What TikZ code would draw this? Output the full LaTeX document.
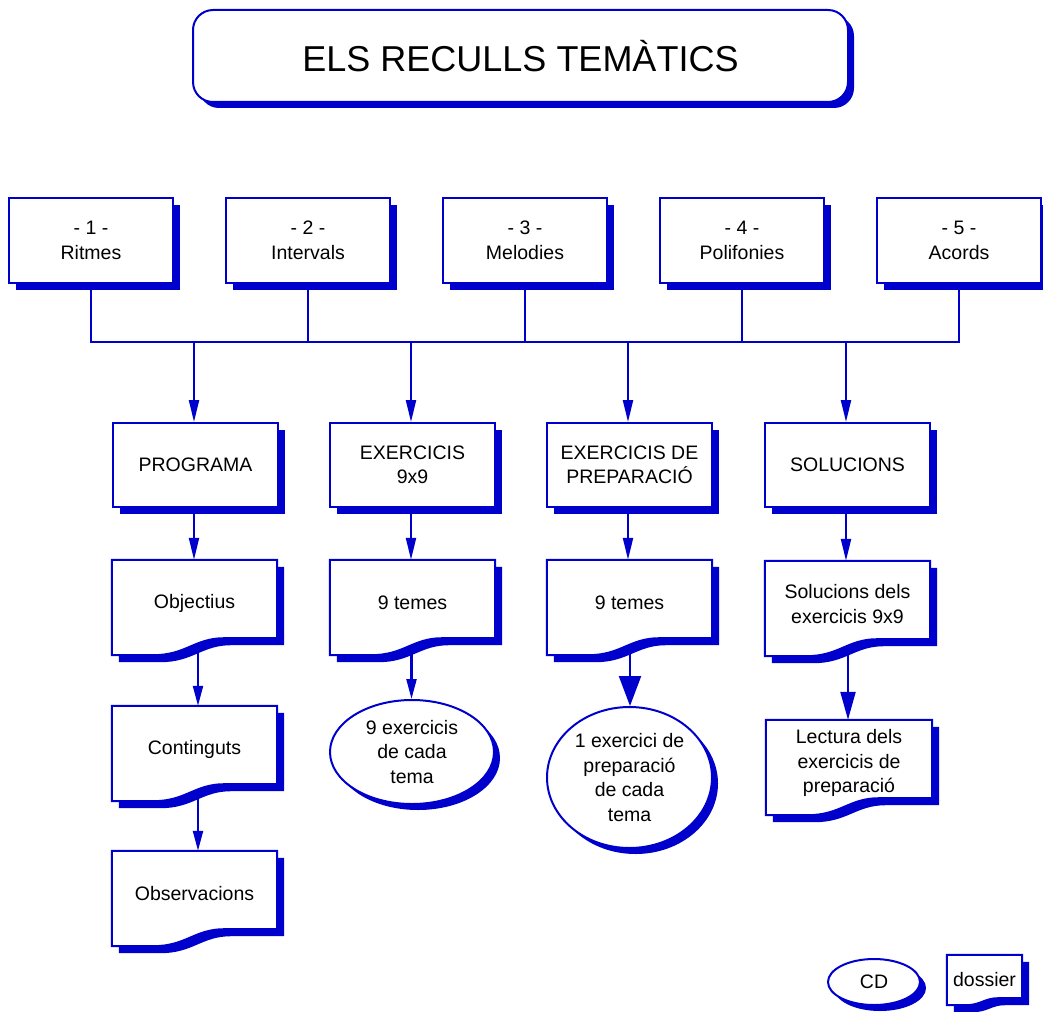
\documentclass[tikz,border=0pt]{standalone}
\usepackage{fontspec}
\setmainfont{Liberation Sans}
\usetikzlibrary{arrows.meta,shapes.geometric,shadows,backgrounds,calc}
\definecolor{fcblue}{RGB}{0,0,204}

% outline of a "document" symbol around node #1, shifted by (#4,#5):
% right end of the wavy bottom #2 above the node's south side, left end #3 below it
\newcommand\docpath[5]{%
  let \p1=(#1.north west), \p2=(#1.south east),
      \n1={\x1+#4}, \n2={\x2+#4}, \n3={\y1+#5}, \n4={\y2+#2+#5}, \n5={\y2-#3+#5} in
  (\n1,\n3) -- (\n2,\n3) -- (\n2,\n4)
  -- ({\n1+0.68*(\n2-\n1)},\n4)
  .. controls ({\n1+0.5*(\n2-\n1)},\n4) and ({\n1+0.45*(\n2-\n1)},\n5) .. ({\n1+0.25*(\n2-\n1)},\n5)
  -- (\n1,\n5) -- cycle}
\newcommand\docframe[3]{%
  \path[fill=fcblue] \docpath{#1}{#2}{#3}{7pt}{-7pt};
  \path[draw=fcblue, fill=white, line width=2pt] \docpath{#1}{#2}{#3}{0pt}{0pt};}

\tikzset{
  every node/.style={font=\fontsize{19.5}{24.5}\selectfont, align=center, text=black, inner sep=0pt},
  sh/.style={drop shadow={shadow xshift=#1, shadow yshift=-#1, fill=fcblue, opacity=1}},
  framed/.style={draw=fcblue, line width=2pt, fill=white},
  titlebox/.style={framed, sh=6pt, rounded corners=20pt, minimum width=655pt, minimum height=92pt,
    font=\fontsize{36}{40}\selectfont},
  topbox/.style={framed, sh=7pt, minimum width=164pt, minimum height=85pt,
    font=\fontsize{19.5}{25}\selectfont},
  partbox/.style={framed, sh=7pt, minimum width=165pt, minimum height=84pt},
  docnode/.style={minimum width=165pt, minimum height=86pt},
  oval/.style={framed, sh=6pt, ellipse, font=\fontsize{19.5}{24.7}\selectfont},
  conn/.style={draw=fcblue, line width=2.2pt},
  arr/.style={conn, -{Triangle[length=22pt,width=10pt]}},
}

\begin{document}
\begin{tikzpicture}[x=1pt, y=-1pt]
\useasboundingbox (0,0) rectangle (1043,1011);

% title
\node[titlebox] (title) at (520.5,56) {ELS RECULLS TEMÀTICS};

% the five collections
\node[topbox] (t1) at (91,240)  {- 1 -\\Ritmes};
\node[topbox] (t2) at (308,240) {- 2 -\\Intervals};
\node[topbox] (t3) at (525,240) {- 3 -\\Melodies};
\node[topbox] (t4) at (742,240) {- 4 -\\Polifonies};
\node[topbox] (t5) at (959,240) {- 5 -\\Acords};

% the four parts of each collection
\node[partbox] (p1) at (195.5,465) {PROGRAMA};
\node[partbox] (p2) at (412.5,465) {EXERCICIS\\9x9};
\node[partbox] (p3) at (629.5,465) {EXERCICIS DE\\PREPARACIÓ};
\node[partbox] (p4) at (847.5,465) {SOLUCIONS};

% documents
\node[docnode] (obj)  at (194.5,603) {Objectius};
\node[docnode] (cont) at (194.5,749) {Continguts};
\node[docnode] (obs)  at (194.5,894) {Observacions};
\node[docnode] (tem2) at (412.5,603) {9 temes};
\node[docnode] (tem3) at (629.5,603) {9 temes};
\node[docnode] (sol)  at (847.5,604) {Solucions dels\\exercicis 9x9};
\node[docnode, minimum width=166pt] (lect) at (849,763) {Lectura dels\\exercicis de\\preparació};

% CDs
\node[oval, minimum width=164pt, minimum height=104pt] (cd2) at (412,752) {9 exercicis\\de cada\\tema};
\node[oval, minimum width=165pt, minimum height=141pt] (cd3) at (629.5,777.5) {1 exercici de\\preparació\\de cada\\tema};

% legend
\node[oval, minimum width=92pt, minimum height=46pt] (lcd) at (874,982) {CD};
\node[docnode, minimum width=75pt, minimum height=50pt] (ldos) at (984.5,980) {dossier};

\begin{scope}[on background layer]
  \docframe{obj}{8pt}{9pt}
  \docframe{cont}{8pt}{9pt}
  \docframe{obs}{8pt}{9pt}
  \docframe{tem2}{8pt}{9pt}
  \docframe{tem3}{8pt}{9pt}
  \docframe{sol}{8pt}{9pt}
  \docframe{lect}{8pt}{9pt}
  \docframe{ldos}{7pt}{0pt}
\end{scope}

% collecting bus
\coordinate (bus) at (0,342);
\draw[conn] (t1.south) -- (t1.south |- bus) -- (t5.south |- bus) -- (t5.south);
\foreach \t in {t2,t3,t4} \draw[conn] (\t.south) -- (\t.south |- bus);
\foreach \p in {p1,p2,p3,p4} \draw[arr] ([xshift=-1.5pt]\p.north |- bus) -- ([xshift=-1.5pt]\p.north);

% part to documents
\draw[arr] ([xshift=-1.5pt]p1.south) -- ([xshift=-0.5pt]obj.north);
\draw[arr] ([xshift=-1.5pt]p2.south) -- ([xshift=-1.5pt]tem2.north);
\draw[arr] ([xshift=-1.5pt]p3.south) -- ([xshift=-1.5pt]tem3.north);
\draw[arr] ([xshift=-1.5pt]p4.south) -- ([xshift=-1.5pt]sol.north);

% document chains
\draw[arr, -{Triangle[length=20pt,width=10pt]}] ([xshift=3.5pt,yshift=-4pt]obj.south) -- ([xshift=3.5pt]cont.north);
\draw[arr, -{Triangle[length=20pt,width=10pt]}] ([xshift=3.5pt,yshift=-4pt]cont.south) -- ([xshift=3.5pt]obs.north);
\draw[arr, -{Triangle[length=20pt,width=10pt]}] ([xshift=-1pt,yshift=-4pt]tem2.south) -- ([xshift=-1pt]tem2.south |- cd2.north);
\draw[arr, -{Triangle[length=30pt,width=22pt]}] ([xshift=0.5pt,yshift=-4pt]tem3.south) -- ([xshift=0.5pt]tem3.south |- cd3.north);
\draw[arr, -{Triangle[length=28pt,width=15pt]}] ([xshift=0.5pt,yshift=-4pt]sol.south) -- ([xshift=0.5pt]sol.south |- lect.north);
\end{tikzpicture}
\end{document}
